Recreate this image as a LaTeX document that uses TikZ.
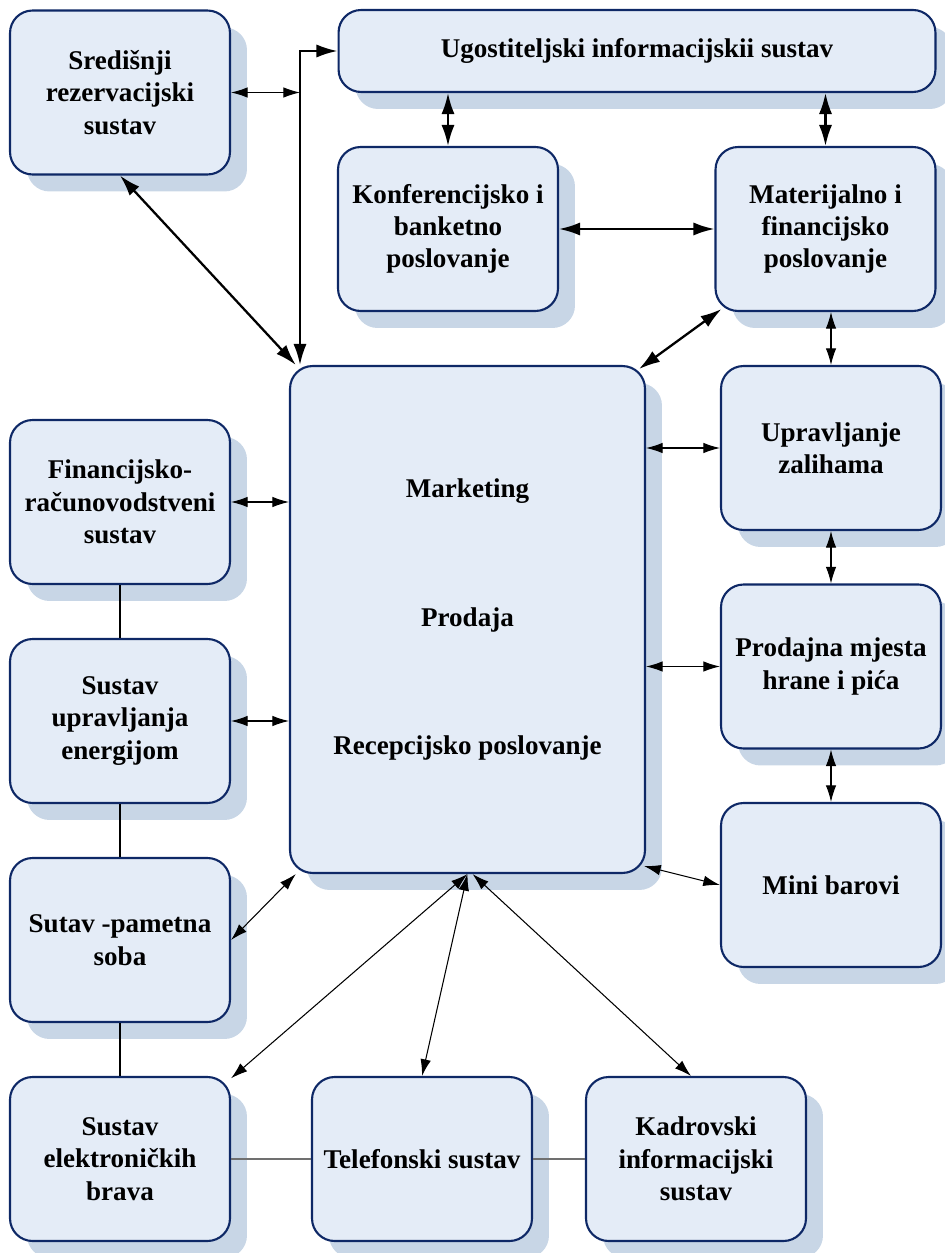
\documentclass[tikz,border=0pt]{standalone}
\usepackage{fontspec}
\setmainfont{Liberation Serif}
\usetikzlibrary{arrows.meta,shadows,calc}
\definecolor{boxfill}{RGB}{228,236,247}
\definecolor{boxshade}{RGB}{200,214,230}
\definecolor{boxline}{RGB}{14,40,102}
\definecolor{tiegray}{RGB}{112,112,112}

\begin{document}
\begin{tikzpicture}[x=0.02cm,y=-0.02cm,
    box/.style={draw=boxline, line width=1.2pt, fill=boxfill, rounded corners=0.45cm,
      minimum width=4.4cm, minimum height=3.28cm, align=center, inner sep=2pt,
      font=\fontsize{15.4}{18.4}\selectfont\bfseries,
      drop shadow={shadow xshift=0.34cm, shadow yshift=-0.34cm, fill=boxshade, opacity=1}},
    link/.style={line width=1.3pt, >={Latex[length=12pt,width=7.5pt]}, <->},
    thinlink/.style={line width=0.6pt, >={Latex[length=9.5pt,width=6pt]}, <->},
    tie/.style={line width=0.6pt},
    graytie/.style={line width=1.1pt, draw=tiegray}]
    \useasboundingbox (0,0) rectangle (945,1253);

    \node[box] (sred) at (120,92.5) {Središnji\\rezervacijski\\sustav};
    \node[box, minimum width=11.94cm, minimum height=1.64cm] (ugo) at (637,51) {Ugostiteljski informacijskii sustav};
    \node[box] (konf) at (448,229) {Konferencijsko i\\banketno\\poslovanje};
    \node[box] (mat) at (825.5,229) {Materijalno i\\financijsko\\poslovanje};
    \node[box, minimum width=7.1cm, minimum height=10.14cm] (mkt) at (467.5,619.5)
      {Marketing\\[55pt]Prodaja\\[55pt]Recepcijsko poslovanje};
    \node[box] (upr) at (831,448) {Upravljanje\\zalihama};
    \node[box] (prod) at (831,666.5) {Prodajna mjesta\\hrane i pića};
    \node[box] (mini) at (831,885) {Mini barovi};
    \node[box] (fin) at (120,502) {Financijsko-\\računovodstveni\\sustav};
    \node[box] (ener) at (120,721) {Sustav\\upravljanja\\energijom};
    \node[box] (soba) at (120,940) {Sutav -pametna\\soba};
    \node[box] (brava) at (120,1159) {Sustav\\elektroničkih\\brava};
    \node[box] (tel) at (422,1159) {Telefonski sustav};
    \node[box] (kadr) at (696,1159) {Kadrovski\\informacijski\\sustav};

    \coordinate (trunk) at (300,51);
    \draw[link] (ugo.west) -- (trunk) -- (trunk |- mkt.north);
    \draw[thinlink] (sred.east) -- (sred.east -| trunk);
    \draw[link] (sred.south) -- (mkt.124);
    \draw[link] (ugo.south -| konf.north) -- (konf.north);
    \draw[link] (ugo.south -| mat.north) -- (mat.north);
    \draw[link] (konf.east) -- (mat.west);
    \draw[link] ($(mat.south west)+(7,-3)$) -- ($(mkt.north east)+(-7,4)$);

    \draw[thinlink] (upr.north |- mat.south) -- (upr.north);
    \draw[thinlink] (upr.south) -- (prod.north);
    \draw[thinlink] (prod.south) -- (mini.north);
    \draw[thinlink] (mkt.east |- upr.west) -- (upr.west);
    \draw[thinlink] (mkt.east |- prod.west) -- (prod.west);
    \draw[thinlink] ($(mkt.south east)+(-2,-8)$) -- (mini.west);

    \draw[thinlink] (fin.east) -- (fin.east -| mkt.west);
    \draw[thinlink] (ener.east) -- (ener.east -| mkt.west);
    \draw[thinlink] (soba.east) -- (mkt.-124);
    \draw[thinlink] (mkt.south) -- (brava.36);
    \draw[thinlink] (mkt.south) -- (tel.north);
    \draw[thinlink] ($(mkt.south)+(5,0)$) -- ($(kadr.north)+(-5,0)$);

    \draw[tie] (fin.south) -- (ener.north);
    \draw[tie] (ener.south) -- (soba.north);
    \draw[tie] (soba.south) -- (brava.north);
    \draw[graytie] (brava.east) -- (tel.west);
    \draw[graytie] (tel.east) -- (kadr.west);
\end{tikzpicture}
\end{document}
